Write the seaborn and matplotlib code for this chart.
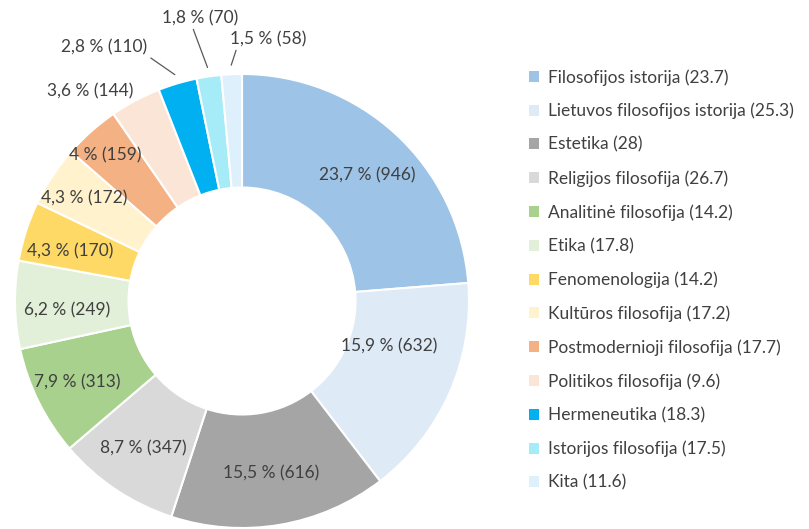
"""Donut chart of philosophy topics (share and count)."""

import numpy as np
import matplotlib
matplotlib.use("Agg")
import matplotlib.pyplot as plt
import seaborn as sns
from matplotlib.patches import Patch

categories = [
    "Filosofijos istorija", "Lietuvos filosofijos istorija", "Estetika",
    "Religijos filosofija", "Analitinė filosofija", "Etika", "Fenomenologija",
    "Kultūros filosofija", "Postmodernioji filosofija", "Politikos filosofija",
    "Hermeneutika", "Istorijos filosofija", "Kita",
]
counts = [946, 632, 616, 347, 313, 249, 170, 172, 159, 144, 110, 70, 58]
percent_labels = ["23,7", "15,9", "15,5", "8,7", "7,9", "6,2", "4,3", "4,3",
                  "4", "3,6", "2,8", "1,8", "1,5"]
legend_values = ["23.7", "25.3", "28", "26.7", "14.2", "17.8", "14.2",
                 "17.2", "17.7", "9.6", "18.3", "17.5", "11.6"]
colors = ["#9DC3E6", "#DEEBF7", "#A5A5A5", "#D9D9D9", "#A9D18E", "#E2F0D9",
          "#FFD966", "#FFF2CC", "#F4B183", "#FBE5D6", "#00B0F0", "#A6ECF8",
          "#DDF0FC"]

sns.set_theme(style="white")
plt.rcParams["font.family"] = ["Lato", "DejaVu Sans"]
text_color = "#404040"
FS = 12.5

W, H = 809, 529
fig = plt.figure(figsize=(W / 100, H / 100), dpi=100)
# donut centre ~ (242, 301) px, radius ~227 px
R_px = 227
ax = fig.add_axes([(242 - R_px) / W, (H - 301 - R_px) / H, 2 * R_px / W, 2 * R_px / H])

palette = sns.color_palette(colors)
wedges, _ = ax.pie(counts, colors=palette, startangle=90, counterclock=False,
                   radius=1.0, wedgeprops=dict(width=0.5, edgecolor="white", linewidth=1.5))
ax.set_xlim(-1, 1)
ax.set_ylim(-1, 1)
ax.set_aspect("equal")
ax.axis("off")

# label radius (fraction of outer radius) and angle nudge (deg) per slice
label_r = [0.78, 0.68, 0.77, 0.78, 0.81, 0.77, 0.79, 0.83, 0.88, 1.14]
label_da = [-2.3, 7, 0, 0, 0, 2, 1.7, 0.4, 1.7, 8]
# small slices: text placed outside with a leader line
outside = {10: (1.27, 118.5, (1, 0)), 11: (1.26, 98.5, (0.4, 0)), 12: (1.16, 84.4, (0.1, 0))}

for i, w in enumerate(wedges):
    mid = np.deg2rad((w.theta1 + w.theta2) / 2)
    txt = f"{percent_labels[i]} % ({counts[i]})"
    if i in outside:
        r, ang, rel = outside[i]
        a = np.deg2rad(ang)
        ax.annotate(txt, xy=(1.04 * np.cos(mid), 1.04 * np.sin(mid)),
                    xytext=(r * np.cos(a), r * np.sin(a)), ha="center", va="center",
                    fontsize=FS, color=text_color, annotation_clip=False,
                    arrowprops=dict(arrowstyle="-", color="#595959", lw=0.9,
                                    relpos=rel, shrinkA=0, shrinkB=0))
    else:
        a = mid + np.deg2rad(label_da[i])
        r = label_r[i]
        ax.text(r * np.cos(a), r * np.sin(a), txt, ha="center", va="center",
                fontsize=FS, color=text_color, clip_on=False)

handles = [Patch(facecolor=c, edgecolor="none") for c in palette]
labels = [f"{c} ({v})" for c, v in zip(categories, legend_values)]
leg = fig.legend(handles, labels, loc="upper left", bbox_to_anchor=(522 / W, 1 - 62 / H),
                 frameon=False, fontsize=FS, handlelength=0.6, handleheight=0.6,
                 handletextpad=0.5, labelspacing=1.0, borderaxespad=0)
for t in leg.get_texts():
    t.set_color(text_color)

fig.savefig("out.png", dpi=100)
